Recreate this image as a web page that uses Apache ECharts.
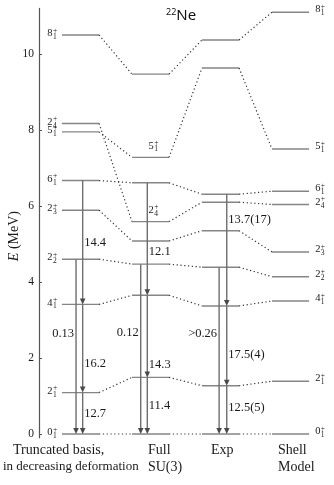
<!DOCTYPE html>
<html>
<head>
<meta charset="utf-8">
<script src="https://cdn.jsdelivr.net/npm/echarts@6/dist/echarts.min.js"></script>
<style>
  html, body { margin: 0; padding: 0; background: #fff; }
  #chart { width: 334px; height: 485px; }
</style>
</head>
<body>
<div id="chart"></div>
<script>
// level energies (MeV), same state order in every column
const stateSpin = ["8", "2", "5", "6", "2", "2", "4", "2", "0"];
const stateNum = ["1", "4", "1", "1", "3", "2", "1", "1", "1"];
const truncated = [10.5, 8.17, 7.95, 6.67, 5.89, 4.6, 3.41, 1.09, 0];
const fullSU3 = [9.47, 5.59, 7.28, 6.61, 5.08, 4.47, 3.65, 1.49, 0];
const experiment = [10.37, 6.1, 9.63, 6.31, 5.35, 4.39, 3.37, 1.27, 0];
const shellModel = [11.1, 6.04, 7.5, 6.39, 4.79, 4.14, 3.5, 1.39, 0];
const columnNames = [
  ["Truncated basis,", "in decreasing deformation"],
  ["Full", "SU(3)"],
  ["Exp"],
  ["Shell", "Model"],
];
const yTicks = [0, 2, 4, 6, 8, 10];
// transitions: column, from state, to state, B(E2)
const transitions = [
  [0, 5, 8, "0.13"], [0, 3, 6, "14.4"], [0, 6, 7, "16.2"], [0, 7, 8, "12.7"],
  [1, 5, 8, "0.12"], [1, 3, 6, "12.1"], [1, 6, 7, "14.3"], [1, 7, 8, "11.4"],
  [2, 5, 8, ">0.26"], [2, 3, 6, "13.7(17)"], [2, 6, 7, "17.5(4)"], [2, 7, 8, "12.5(5)"],
];

const columns = [truncated, fullSU3, experiment, shellModel];

// layout bits
const halfWidth = 0.265;
const crossX = [-0.064, -0.14, -0.02];
const cascadeX = [0.031, -0.046, 0.089];
const labelShift = [-13, 0, 15, 0, -16, 13, 28, 0, -17, -30, 9, -2];
const nameShift = [[-49, -59], [16, 16], [9], [6, 6]];
const nameSize = [[14, 13], [14, 14], [14], [14, 14]];
const serif = "'Liberation Serif', serif";
const levelColor = "#858585";

function txt(x, y, text, size, align, vAlign, fill) {
  return {
    type: "text",
    x: x,
    y: y,
    style: {
      text: text,
      font: size + "px " + serif,
      fill: fill || "#1a1a1a",
      align: align,
      textAlign: align,
      verticalAlign: vAlign,
      textVerticalAlign: vAlign,
    },
  };
}

function stateLabel(i, ax, ay, out) {
  out.push(txt(ax, ay, stateSpin[i], 10.5, "right", "middle"));
  out.push(txt(ax + 0.4, ay + 3.6, stateNum[i], 7.5, "left", "middle"));
  out.push(txt(ax + 0.4, ay - 2.6, "+", 7.5, "left", "middle"));
}

function renderColumn(params, api) {
  const c = api.value(0);
  const levels = columns[c];
  const children = [];
  levels.forEach((e, i) => {
    const a = api.coord([c - halfWidth, e]);
    const b = api.coord([c + halfWidth, e]);
    children.push({
      type: "line",
      shape: { x1: a[0], y1: a[1], x2: b[0], y2: b[1] },
      style: { stroke: levelColor, lineWidth: 1.4 },
    });
    if (c === 0) stateLabel(i, a[0] - 9.4, a[1] - 1.5, children);
    if (c === 3) stateLabel(i, b[0] + 11.3, b[1] - 2.5, children);
    if (c === 1 && (i === 1 || i === 2)) stateLabel(i, b[0] - 15.3, b[1] - 11.6, children);
    if (c < 3) {
      const n = api.coord([c + 1 - halfWidth, columns[c + 1][i]]);
      children.push({
        type: "line",
        shape: { x1: b[0], y1: b[1], x2: n[0], y2: n[1] },
        style: { stroke: "#333", lineWidth: 1.2, lineDash: [1.2, 2.6] },
      });
    }
  });
  const base = api.coord([c - halfWidth, 0]);
  columnNames[c].forEach((line, j) => {
    children.push(txt(base[0] + nameShift[c][j], base[1] + 16 + 17 * j, line, nameSize[c][j], "left", "middle"));
  });
  return { type: "group", children: children };
}

function renderTransition(params, api) {
  const k = params.dataIndex;
  const t = transitions[k];
  const c = t[0];
  const cross = t[1] === 5;
  const x = c + (cross ? crossX[c] : cascadeX[c]);
  const top = api.coord([x, api.value(1)]);
  const tip = api.coord([x, api.value(2)]);
  const midY = (top[1] + tip[1]) / 2 + labelShift[k];
  const children = [
    {
      type: "line",
      shape: { x1: top[0], y1: top[1], x2: tip[0], y2: tip[1] - 4 },
      style: { stroke: "#6e6e6e", lineWidth: 1.4 },
    },
    {
      type: "polygon",
      shape: { points: [[tip[0] - 2.8, tip[1] - 6], [tip[0] + 2.8, tip[1] - 6], [tip[0], tip[1]]] },
      style: { fill: "#4a4a4a" },
    },
    cross
      ? txt(tip[0] - 2, midY, t[3], 12.5, "right", "middle")
      : txt(tip[0] + 1.5, midY, t[3], 12.5, "left", "middle"),
  ];
  return { type: "group", children: children };
}

const chart = echarts.init(document.getElementById("chart"));

chart.setOption({
  backgroundColor: "#fff",
  animation: false,
  title: {
    text: "{s|22}{n|Ne}",
    left: 161,
    top: 3,
    textStyle: {
      rich: {
        s: { fontFamily: "'Noto Sans', sans-serif", fontSize: 9, fontWeight: "normal", color: "#111", verticalAlign: "top", padding: [0, 0, 7, 0] },
        n: { fontFamily: "'Noto Sans', sans-serif", fontSize: 15, fontWeight: "normal", color: "#111" },
      },
    },
  },
  grid: {
    left: 39,
    top: 8.4,
    width: 295,
    height: 429.4,
    outerBoundsMode: "none",
    containLabel: false,
  },
  xAxis: {
    type: "value",
    min: -0.593,
    max: 3.621,
    show: false,
  },
  yAxis: {
    type: "value",
    min: -0.1,
    max: 11.2,
    name: "{i|E} (MeV)",
    nameLocation: "middle",
    nameGap: 18,
    nameMoveOverlap: false,
    nameRotate: 90,
    nameTextStyle: {
      fontFamily: serif,
      fontSize: 14,
      color: "#1a1a1a",
      padding: [0, 26, 0, 0],
      rich: { i: { fontFamily: serif, fontSize: 14, fontStyle: "italic", color: "#1a1a1a" } },
    },
    axisLine: { show: true, onZero: false, lineStyle: { color: "#555", width: 1.2 } },
    axisTick: { show: true, inside: true, length: 3, customValues: yTicks, lineStyle: { color: "#555" } },
    axisLabel: {
      customValues: yTicks,
      margin: 5,
      fontFamily: serif,
      fontSize: 11.5,
      color: "#1a1a1a",
    },
    splitLine: { show: false },
  },
  series: [
    {
      type: "custom",
      name: "transitions",
      data: transitions.map((t) => [t[0], columns[t[0]][t[1]], columns[t[0]][t[2]]]),
      encode: { x: 0, y: [1, 2] },
      renderItem: renderTransition,
      z: 3,
    },
    {
      type: "custom",
      name: "levels",
      data: columns.map((col, c) => [c, 0]),
      encode: { x: 0, y: 1 },
      renderItem: renderColumn,
      z: 2,
    },
  ],
});
</script>
</body>
</html>
